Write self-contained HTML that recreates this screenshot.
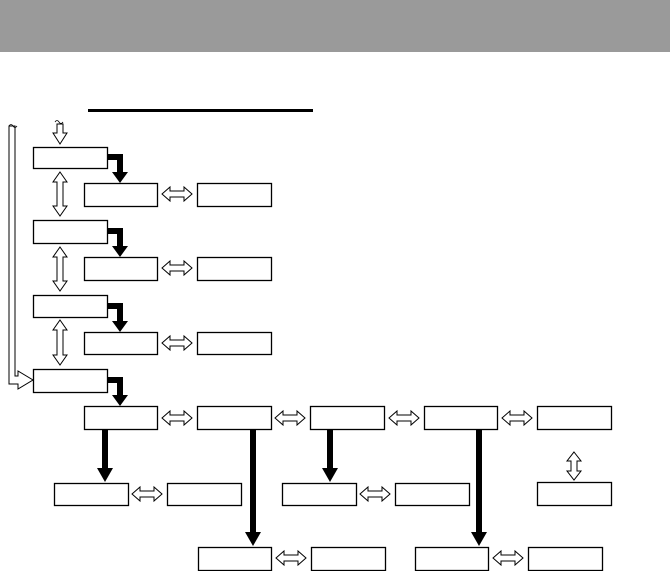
<!DOCTYPE html>
<html><head><meta charset="utf-8"><style>
html,body{margin:0;padding:0;background:#fff;}
svg{display:block;}
</style></head><body>
<svg width="670" height="571" viewBox="0 0 670 571" xmlns="http://www.w3.org/2000/svg">
<rect x="0" y="0" width="670" height="52" fill="#9a9a9a"/>
<rect x="88" y="109" width="225" height="3" fill="#000"/>
<g fill="#fff" stroke="#000" stroke-width="1.3">
<rect x="33.5" y="147.5" width="74" height="21"/>
<rect x="84.5" y="183.5" width="73" height="23"/>
<rect x="197.5" y="183.5" width="74" height="23"/>
<rect x="33.5" y="220.5" width="74" height="23"/>
<rect x="84.5" y="257.5" width="73" height="23"/>
<rect x="197.5" y="257.5" width="74" height="23"/>
<rect x="33.5" y="295.5" width="74" height="22"/>
<rect x="84.5" y="332.5" width="73" height="22"/>
<rect x="197.5" y="332.5" width="74" height="22"/>
<rect x="33.5" y="369.5" width="74" height="23"/>
<rect x="84.5" y="406.5" width="73" height="23"/>
<rect x="197.5" y="406.5" width="74" height="23"/>
<rect x="310.5" y="406.5" width="74" height="23"/>
<rect x="424.5" y="406.5" width="73" height="23"/>
<rect x="537.5" y="406.5" width="74" height="23"/>
<rect x="54.5" y="483.5" width="74" height="22"/>
<rect x="167.5" y="483.5" width="74" height="22"/>
<rect x="282.5" y="483.5" width="74" height="22"/>
<rect x="395.5" y="483.5" width="74" height="22"/>
<rect x="537.5" y="482.5" width="74" height="23"/>
<rect x="198.5" y="547.5" width="73" height="23"/>
<rect x="311.5" y="547.5" width="74" height="23"/>
<rect x="415.5" y="547.5" width="73" height="23"/>
<rect x="528.5" y="547.5" width="74" height="23"/>
</g>
<!-- horizontal double arrows -->
<g fill="#fff" stroke="#000" stroke-width="1">
<polygon points="162,194 170,187 170,191 184,191 184,187 192,194 184,201 184,197 170,197 170,201"/>
<polygon points="162,268 170,261 170,265 184,265 184,261 192,268 184,275 184,271 170,271 170,275"/>
<polygon points="162,343 170,336 170,340 184,340 184,336 192,343 184,350 184,346 170,346 170,350"/>
<polygon points="162,418 170,411 170,415 184,415 184,411 192,418 184,425 184,421 170,421 170,425"/>
<polygon points="275,418 283,411 283,415 297,415 297,411 305,418 297,425 297,421 283,421 283,425"/>
<polygon points="389,418 397,411 397,415 411,415 411,411 419,418 411,425 411,421 397,421 397,425"/>
<polygon points="502,418 510,411 510,415 524,415 524,411 532,418 524,425 524,421 510,421 510,425"/>
<polygon points="132,494 140,487 140,491 154,491 154,487 162,494 154,501 154,497 140,497 140,501"/>
<polygon points="360,494 368,487 368,491 382,491 382,487 390,494 382,501 382,497 368,497 368,501"/>
<polygon points="276,558 284,551 284,555 298,555 298,551 306,558 298,565 298,561 284,561 284,565"/>
<polygon points="493,558 501,551 501,555 515,555 515,551 523,558 515,565 515,561 501,561 501,565"/>
<!-- vertical double arrows -->
<polygon points="60,172 67,182 63,182 63,206 67,206 60,216 53,206 57,206 57,182 53,182"/>
<polygon points="60,247 67,257 63,257 63,281 67,281 60,291 53,281 57,281 57,257 53,257"/>
<polygon points="60,320 67,330 63,330 63,355 67,355 60,365 53,355 57,355 57,330 53,330"/>
<polygon points="574,452 581,461 577,461 577,471 581,471 574,480 567,471 571,471 571,461 567,461"/>
<polygon points="57,124 63,124 63,133 67,133 60,144 53,133 57,133"/>
<!-- long left bar -->
<polygon points="9,126 15,126 15,376 18,376 18,371 33,380 18,389 18,384 9,384"/>
</g>
<path d="M9,126 q2,-3 4,0 q2,3 4,0" fill="none" stroke="#000" stroke-width="0.8"/>
<path d="M55,122 q2,-3 4,0 q2,3 4,0" fill="none" stroke="#000" stroke-width="0.8"/>
<!-- black elbow arrows -->
<g fill="#000">
<path d="M107,154 H123 V172 H128 L120,183 L112,172 H117 V160 H107Z"/>
<path d="M107,228 H123 V246 H128 L120,257 L112,246 H117 V234 H107Z"/>
<path d="M107,303 H123 V321 H128 L120,332 L112,321 H117 V309 H107Z"/>
<path d="M107,377 H123 V395 H128 L120,406 L112,395 H117 V383 H107Z"/>
<!-- vertical black arrows -->
<path d="M102,430 H108 V468 H113 L105,482 L97,468 H102Z"/>
<path d="M250,430 H256 V532 H261 L253,546 L245,532 H250Z"/>
<path d="M327,430 H333 V468 H338 L330,482 L322,468 H327Z"/>
<path d="M476,430 H482 V532 H487 L479,546 L471,532 H476Z"/>
</g>
</svg>
</body></html>
